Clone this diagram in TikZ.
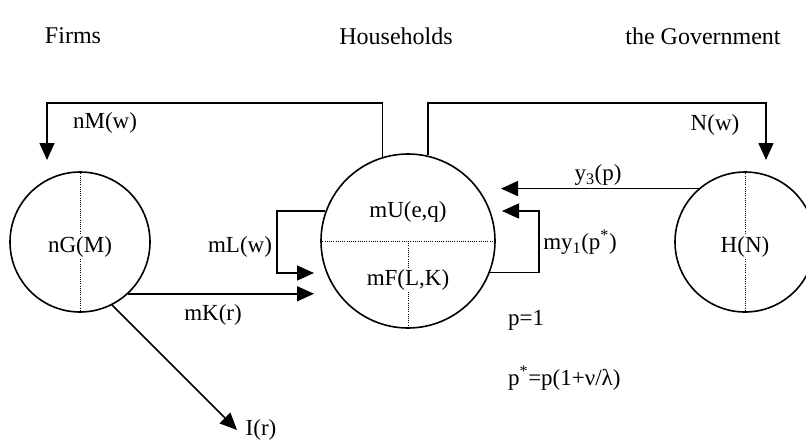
\documentclass[tikz,border=0pt]{standalone}
\usepackage{fontspec}
\setmainfont{Liberation Serif}
\usetikzlibrary{arrows.meta,calc}
\begin{document}
\begin{tikzpicture}[x=1pt,y=-1pt,
  lw/.style={line width=1.6pt},
  flow/.style={lw,-{Triangle[length=17pt,width=15pt]}},
  sector/.style={circle,draw,lw,minimum size=#1,inner sep=0pt},
  divider/.style={line width=1pt,dash pattern=on 1pt off 1.2pt},
  lbl/.style={font=\fontsize{23}{27}\selectfont,inner sep=1pt},
  head/.style={font=\fontsize{24}{28}\selectfont,inner sep=1pt},
  inlbl/.style={lbl,fill=white,inner sep=2pt},
]
\useasboundingbox (0,0) rectangle (806,440);
% headers
\node[head] (hF) at (73,36) {Firms};
\node[head] (hH) at (396,36) {Households};
\node[head] (hG) at (703,36) {the Government};
% sectors
\node[sector=140pt] (F) at (80,242) {};
\node[sector=174pt] (M) at (408,241) {};
\node[sector=140pt] (G) at (745,242) {};
\draw[divider] (F.north) -- (F.south);
\draw[divider] (G.north) -- (G.south);
\draw[divider] (M.west) -- (M.east);
\draw[divider] (M.center) -- (M.south);
\node[inlbl] (tF) at (80,247) {nG(M)};
\node[inlbl] (tG) at (745,247) {H(N)};
\node[lbl] (tU) at (408,212) {mU(e,q)};
\node[inlbl] (tP) at (408,280) {mF(L,K)};
% coordinates
\coordinate (top) at (0,103);
\coordinate (nMtip) at (47,160);
\coordinate (Ntip) at (766,160);
\coordinate (mLcorner) at (277,273);
\coordinate (mLtip) at (314,273);
\coordinate (mKtip) at (314,293);
\coordinate (Itip) at (237,430);
\coordinate (y3tip) at (501,189);
\coordinate (my1corner) at (539,211);
\coordinate (my1tip) at (502,211);
% flows
\draw[flow] (M.107) -- (M.107 |- top) -| (nMtip);
\draw[flow] (M.77) -- (M.77 |- top) -| (Ntip);
\draw[flow] (M.160) -| (mLcorner) -- (mLtip);
\draw[flow] (F.313) -- (F.313 -| mKtip);
\draw[flow] (F.297) -- (Itip);
\draw[flow] (G.131) -- (G.131 -| y3tip);
\draw[flow] (M.339) -| (my1corner) -- (my1tip);
% labels
\node[lbl] (lnM) at (105,123) {nM(w)};
\node[lbl] (lN) at (715,125) {N(w)};
\node[lbl] (lmL) at (240,247) {mL(w)};
\node[lbl] (lmK) at (213,315) {mK(r)};
\node[lbl] (lI) at (261,430) {I(r)};
\node[lbl] (ly3) at (598,175) {y\textsubscript{3}(p)};
\node[lbl] (lmy1) at (580,242) {my\textsubscript{1}(p\textsuperscript{*})};
\node[lbl,anchor=west] (lp) at (507,320) {p=1};
\node[lbl,anchor=west] (lps) at (507,378) {p\textsuperscript{*}=p(1+ν/λ)};
\end{tikzpicture}
\end{document}
